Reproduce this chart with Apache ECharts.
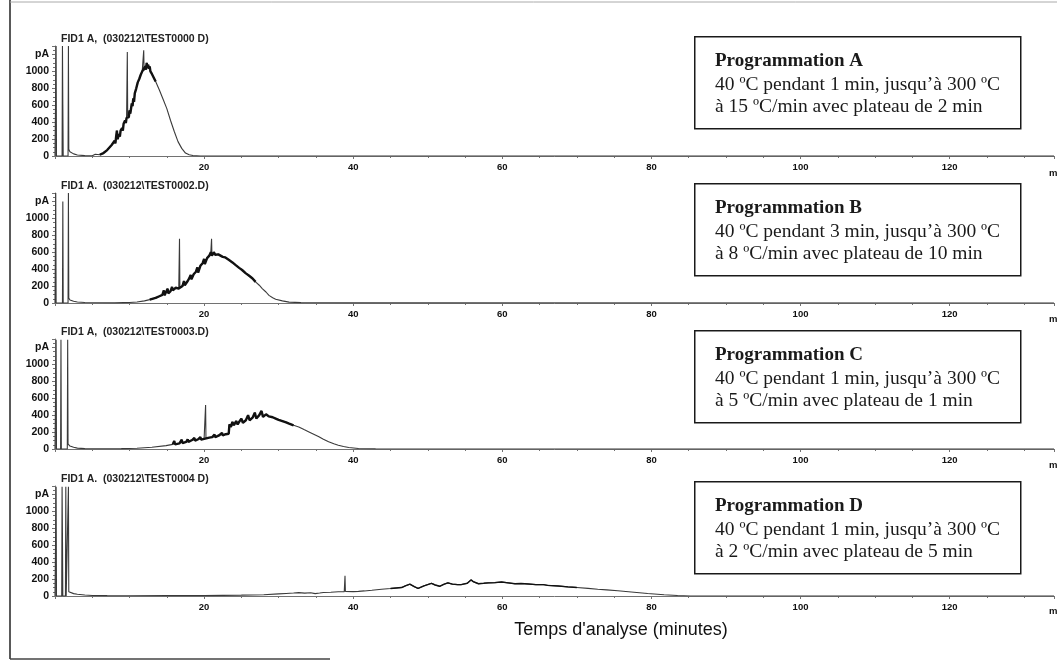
<!DOCTYPE html>
<html>
<head>
<meta charset="utf-8">
<script src="https://cdn.jsdelivr.net/npm/echarts@6/dist/echarts.min.js"></script>
<style>
  html, body { margin: 0; padding: 0; background: #fff; }
  #chart { width: 1057px; height: 662px; }
</style>
</head>
<body>
<div id="chart"></div>
<script>
// Run titles (one FID trace per temperature programme)
const runTitles = [
  'FID1 A,  (030212\\TEST0000 D)',
  'FID1 A.  (030212\\TEST0002.D)',
  'FID1 A,  (030212\\TEST0003.D)',
  'FID1 A.  (030212\\TEST0004 D)'
];

// Programme descriptions
const programmeNames = ['Programmation A', 'Programmation B', 'Programmation C', 'Programmation D'];
const programmeLine1 = [
  '40 ºC pendant 1 min, jusqu’à 300 ºC',
  '40 ºC pendant 3 min, jusqu’à 300 ºC',
  '40 ºC pendant 1 min, jusqu’à 300 ºC',
  '40 ºC pendant 1 min, jusqu’à 300 ºC'
];
const programmeLine2 = [
  'à 15 ºC/min avec plateau de 2 min',
  'à 8 ºC/min avec plateau de 10 min',
  'à 5 ºC/min avec plateau de 1 min',
  'à 2 ºC/min avec plateau de 5 min'
];

// Axis settings
const timeMax = 134;          // min
const timeTickStep = 20;
const signalMax = 1300;       // pA
const signalTickStep = 200;
const axisTitle = 'Temps d\'analyse (minutes)';

// Chromatogram traces: [time (min), signal (pA)]
const traceA = [
  [0,0],[0.1,0],[0.15,1300],[0.2,0],[0.95,0],[1.0,1300],[1.05,600],[1.1,0],[1.75,0],[1.8,1300],[1.85,80],
  [2.0,50],[2.5,25],[3,12],[4,5],[5,3],[5.4,20],[5.5,40],[5.6,8],[6,15],[6.5,35],[7,70],[7.2,90],[7.6,130],
  [8.0,180],[8.1,150],[8.2,230],[8.3,300],[8.4,200],[8.6,260],[8.7,230],[8.8,300],[9.0,330],[9.1,300],[9.2,380],
  [9.4,420],[9.5,390],[9.6,450],[9.7,1230],[9.75,470],[9.9,460],[10.0,540],[10.1,500],[10.3,620],[10.4,590],
  [10.5,680],[10.6,640],[10.7,740],[10.8,720],[10.9,800],[11.0,780],[11.1,870],[11.2,850],[11.3,910],[11.4,890],
  [11.5,960],[11.6,940],[11.7,1000],[11.8,980],[11.9,1250],[11.95,1010],[12.1,1060],[12.2,1020],[12.3,1100],
  [12.4,1040],[12.5,1080],[12.6,1030],[12.7,1060],[12.8,1000],[12.9,1020],[13.0,970],[13.2,950],[13.5,880],
  [14.0,780],[14.5,670],[15.0,560],[15.5,420],[16.0,290],[16.5,170],[17.0,90],[17.5,35],[18.0,15],[18.5,5],
  [19.5,0],[40,0],[134,0]
];

const traceB = [
  [0,0],[0.05,0],[0.1,1300],[0.15,0],[1.0,0],[1.05,1200],[1.1,0],[1.75,0],[1.8,1300],[1.85,60],
  [2.0,35],[2.5,20],[3,12],[4,6],[6,3],[8,2],[9.2,5],[9.3,25],[9.4,5],[10,6],[11,12],[12,25],[12.7,40],
  [13.5,60],[14.0,80],[14.4,95],[14.6,150],[14.7,90],[14.9,110],[15.1,170],[15.2,115],[15.5,140],[15.7,190],
  [15.8,150],[16.2,180],[16.4,200],[16.6,170],[16.7,760],[16.75,190],[17.1,200],[17.3,260],[17.4,210],
  [17.8,260],[18.0,290],[18.2,330],[18.3,280],[18.6,340],[18.9,370],[19.1,420],[19.2,360],[19.5,440],
  [19.8,470],[20.0,520],[20.1,460],[20.4,530],[20.7,560],[20.9,600],[21.0,760],[21.05,560],[21.3,600],
  [21.5,570],[21.7,590],[21.9,575],[22.2,560],[22.5,545],[22.8,540],[23.3,510],[23.8,480],[24.2,450],
  [24.7,415],[25.1,390],[25.6,350],[26.0,325],[26.5,290],[26.9,250],[27.4,210],[27.8,170],[28.3,130],
  [28.7,90],[29.2,62],[29.6,45],[30.5,25],[31.4,10],[33,4],[40,2],[134,0]
];

const traceC = [
  [0,0],[0.1,0],[0.15,1290],[0.2,0],[0.75,0],[0.8,1290],[0.85,0],[1.65,0],[1.7,1290],[1.75,60],
  [2.0,35],[2.5,20],[3,10],[4,5],[6,3],[8.9,4],[9.0,18],[9.1,4],[11,8],[13,20],[14.9,40],[15.8,55],
  [16.0,95],[16.1,55],[16.7,67],[17.0,110],[17.1,70],[17.6,85],[17.8,115],[17.9,85],[18.4,106],[18.7,130],
  [18.8,100],[19.2,115],[19.5,140],[19.6,110],[20.0,120],[20.2,520],[20.25,125],[20.7,135],[21.1,140],
  [21.4,170],[21.5,140],[22.0,160],[22.4,190],[22.5,160],[22.9,175],[23.3,180],[23.4,290],[23.6,260],
  [23.8,320],[24.0,280],[24.3,330],[24.5,290],[24.7,320],[25.0,360],[25.2,310],[25.6,340],[25.9,400],
  [26.1,340],[26.5,370],[26.8,430],[27.0,360],[27.4,400],[27.7,450],[27.9,380],[28.3,410],[28.7,385],
  [29.2,375],[29.6,360],[30.0,345],[30.5,330],[31.0,315],[31.4,300],[32.0,280],[32.7,260],[33.4,230],
  [34.0,205],[34.7,175],[35.4,145],[36.0,115],[36.7,85],[37.4,62],[38.0,45],[38.7,30],[39.4,18],
  [40.7,6],[43,2],[134,0]
];

const traceD = [
  [0,0],[0.1,0],[0.15,1290],[0.2,0],[0.9,0],[0.95,1290],[1.0,700],[1.05,0],[1.4,0],[1.45,1290],[1.5,0],
  [1.75,0],[1.8,1290],[1.85,50],[2.0,40],[2.5,28],[3,20],[4,12],[5,6],[7,4],[10,3],[15,4],[20,5],[25,10],
  [28,15],[30,25],[31,30],[32,35],[32.7,40],[33.5,34],[34.3,38],[34.9,28],[35.5,35],[36,42],[37,45],
  [38,50],[38.8,52],[38.9,240],[38.95,55],[40,52],[40.7,55],[41.5,60],[42.5,68],[43.8,80],[45,88],
  [46.5,100],[47.0,120],[47.6,140],[48.2,110],[48.7,90],[49.5,120],[50.5,150],[51.0,130],[51.6,115],
  [52.2,140],[52.7,155],[53.3,140],[54.0,135],[54.5,135],[55.3,150],[55.8,190],[56.1,170],[56.8,145],
  [57.5,150],[58.1,155],[59.0,158],[59.9,165],[60.8,155],[61.7,145],[62.5,148],[63.5,142],[64.5,135],
  [65.5,135],[66.1,125],[67.5,118],[68.8,108],[70,100],[71.5,90],[72.8,80],[74,72],[75.5,62],[77.3,48],
  [79.5,30],[81.7,15],[83.5,6],[85.2,0],[134,0]
];

const traces = [traceA, traceB, traceC, traceD];

// Time windows (min) where the trace is crowded with unresolved peaks,
// and the level (pA) above which isolated sharp peaks stay thin
const crowdedA = [6.0, 13.6, 1150];
const crowdedB = [12.5, 27.0, 700];
const crowdedC = [15.0, 32.0, 480];
const crowdedD = [44.0, 70.0, 230];
const crowded = [crowdedA, crowdedB, crowdedC, crowdedD];

// Panel layout (pixels)
const plotLeft = 55;
const plotWidth = 1002;
const panelTops = [46, 193, 339, 486];
const panelHeight = 110;
const boxTops = [36, 183, 330, 481];
const boxLeft = 694;
const boxWidth = 326;
const boxHeight = 92;
const minLabelY = [173, 319, 465, 611];

const axisColor = '#727272';
const labelFont = 'Liberation Sans, Arial, sans-serif';
const serifFont = 'Liberation Serif, Times New Roman, serif';

const grids = [], xAxes = [], yAxes = [], series = [], titles = [], graphics = [];

traces.forEach(function (trace, i) {
  grids.push({ left: plotLeft, top: panelTops[i], width: plotWidth, height: panelHeight, containLabel: false });
  xAxes.push({
    type: 'value', gridIndex: i, min: 0, max: timeMax, interval: timeTickStep,
    axisLine: { show: true, onZero: false, lineStyle: { color: axisColor, width: 1 } },
    axisTick: { show: true, length: 3, lineStyle: { color: axisColor } },
    minorTick: { show: true, splitNumber: 4, length: 2, lineStyle: { color: axisColor } },
    splitLine: { show: false },
    axisLabel: {
      margin: 6, color: '#111', fontSize: 9.5, fontWeight: 'bold', fontFamily: labelFont,
      formatter: function (v) { return (v > 0 && v <= 120) ? String(v) : ''; }
    }
  });
  yAxes.push({
    type: 'value', gridIndex: i, min: 0, max: signalMax, interval: signalTickStep,
    axisLine: { show: true, lineStyle: { color: axisColor, width: 1 } },
    axisTick: { show: true, length: 3, lineStyle: { color: axisColor } },
    minorTick: { show: true, splitNumber: 4, length: 2, lineStyle: { color: axisColor } },
    splitLine: { show: false },
    axisLabel: {
      margin: 6, color: '#111', fontSize: 10.5, fontWeight: 'bold', fontFamily: labelFont,
      showMaxLabel: false,
      formatter: function (v) { return v === 1200 ? 'pA' : (v <= 1000 ? String(v) : ''); }
    }
  });
  // full trace
  series.push({
    type: 'line', xAxisIndex: i, yAxisIndex: i, data: trace, showSymbol: false, symbol: 'none',
    lineStyle: { color: '#3a3a3a', width: 1.1 }, silent: true, clip: true
  });
  // crowded part of the same trace, drawn heavier
  const win = crowded[i];
  series.push({
    type: 'line', xAxisIndex: i, yAxisIndex: i, showSymbol: false, symbol: 'none',
    data: trace.filter(function (p) { return p[0] >= win[0] && p[0] <= win[1] && p[1] < win[2]; }),
    lineStyle: { color: '#111', width: i === 3 ? 1.4 : 2.4 }, silent: true, clip: true
  });
  titles.push({
    text: runTitles[i], left: 56, top: panelTops[i] - 17,
    textStyle: { fontSize: 10.5, fontWeight: 'bold', fontFamily: labelFont, color: '#222' }
  });

  // Programme description box
  graphics.push({
    type: 'rect', left: boxLeft, top: boxTops[i],
    shape: { width: boxWidth, height: boxHeight },
    style: { fill: '#fff', stroke: '#1a1a1a', lineWidth: 1.5 }
  });
  graphics.push({
    type: 'text', x: boxLeft + 21, y: boxTops[i] + 25,
    style: { text: programmeNames[i], font: 'bold 19px ' + serifFont, fill: '#1a1a1a', textVerticalAlign: 'middle' }
  });
  graphics.push({
    type: 'text', x: boxLeft + 21, y: boxTops[i] + 49,
    style: { text: programmeLine1[i], font: '19.5px ' + serifFont, fill: '#1a1a1a', textVerticalAlign: 'middle' }
  });
  graphics.push({
    type: 'text', x: boxLeft + 21, y: boxTops[i] + 71,
    style: { text: programmeLine2[i], font: '19.5px ' + serifFont, fill: '#1a1a1a', textVerticalAlign: 'middle' }
  });
  // unit label at the end of each time axis
  graphics.push({
    type: 'text', x: 1049, y: minLabelY[i],
    style: { text: 'min', font: 'bold 9.5px ' + labelFont, fill: '#111', textVerticalAlign: 'middle' }
  });
});

// Axis title below the last panel
graphics.push({
  type: 'text', x: 621, y: 630,
  style: { text: axisTitle, font: '18px ' + labelFont, fill: '#111', textAlign: 'center', textVerticalAlign: 'middle' }
});

// Frame around the figure
graphics.push({ type: 'line', shape: { x1: 10, y1: 0, x2: 10, y2: 659 }, style: { stroke: '#222', lineWidth: 1.5 } });
graphics.push({ type: 'line', shape: { x1: 10, y1: 659, x2: 330, y2: 659 }, style: { stroke: '#444', lineWidth: 1.5 } });
graphics.push({ type: 'line', shape: { x1: 10, y1: 2, x2: 1057, y2: 2 }, style: { stroke: '#aaa', lineWidth: 1 } });

const chart = echarts.init(document.getElementById('chart'), null, { renderer: 'canvas' });
chart.setOption({
  animation: false,
  backgroundColor: '#fff',
  title: titles,
  grid: grids,
  xAxis: xAxes,
  yAxis: yAxes,
  series: series,
  graphic: graphics
});
</script>
</body>
</html>
